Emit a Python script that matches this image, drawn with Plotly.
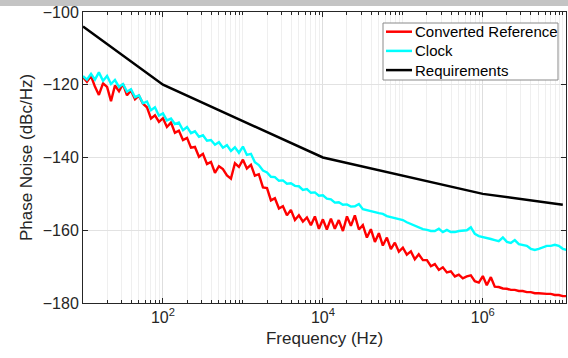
import plotly.graph_objects as go

freq_hz = [10, 11.2, 12.6, 14.1, 15.8, 17.8, 20.0, 22.4, 25.1, 28.2,
           31.6, 35.5, 39.8, 44.7, 50.1, 56.2, 63.1, 70.8, 79.4, 89.1,
           100, 112, 126, 141, 158, 178, 200, 224, 251, 282,
           316, 355, 398, 447, 501, 562, 631, 708, 794, 891,
           1000, 1120, 1260, 1410, 1580, 1780, 2000, 2240, 2510, 2820,
           3160, 3550, 3980, 4470, 5010, 5620, 6310, 7080, 7940, 8910,
           1.0e4, 1.12e4, 1.26e4, 1.41e4, 1.58e4, 1.78e4, 2.0e4, 2.24e4, 2.51e4, 2.82e4,
           3.16e4, 3.55e4, 3.98e4, 4.47e4, 5.01e4, 5.62e4, 6.31e4, 7.08e4, 7.94e4, 8.91e4,
           1.0e5, 1.12e5, 1.26e5, 1.41e5, 1.58e5, 1.78e5, 2.0e5, 2.24e5, 2.51e5, 2.82e5,
           3.16e5, 3.55e5, 3.98e5, 4.47e5, 5.01e5, 5.62e5, 6.31e5, 7.08e5, 7.94e5, 8.91e5,
           1.0e6, 1.12e6, 1.26e6, 1.41e6, 1.58e6, 1.78e6, 2.0e6, 2.24e6, 2.51e6, 2.82e6,
           3.16e6, 3.55e6, 3.98e6, 4.47e6, 5.01e6, 5.62e6, 6.31e6, 7.08e6, 7.94e6, 8.91e6,
           1.0e7, 1.12e7]

converted_reference = [
    -117.9, -119.2, -117.6, -120.5, -122.8, -119.6, -120.6, -124.5, -120.2, -121.8,
    -119.8, -122.9, -121.6, -124.0, -123.0, -125.2, -126.2, -129.3, -128.4, -130.2,
    -129.2, -131.6, -130.4, -133.2, -132.6, -135.2, -134.6, -137.3, -137.1, -139.8,
    -139.0, -141.8, -141.2, -144.2, -142.4, -143.2, -144.9, -145.8, -141.6, -142.6,
    -140.6, -143.0, -142.0, -145.0, -144.6, -148.2, -148.4, -151.8, -151.2, -154.0,
    -153.4, -155.9, -154.4, -157.2, -155.9, -157.6, -156.5, -158.6, -156.2, -159.6,
    -157.0, -159.8, -156.8, -159.6, -157.2, -160.2, -156.2, -158.8, -155.9, -159.8,
    -158.6, -162.0, -159.7, -163.2, -160.8, -164.2, -162.0, -165.2, -163.4, -165.9,
    -164.8, -166.7, -165.8, -168.0, -166.6, -168.2, -168.2, -169.9, -169.3, -170.9,
    -170.2, -171.6, -171.3, -172.7, -172.2, -173.2, -172.7, -172.4, -174.0, -174.4,
    -172.6, -175.1, -172.9, -175.5, -175.6, -176.0, -176.1, -176.4, -176.4, -176.7,
    -176.7, -177.0, -177.0, -177.3, -177.3, -177.5, -177.5, -177.5, -177.8, -177.8,
    -178.1, -178.1]

clock = [
    -117.6, -118.6, -117.0, -118.6, -116.6, -118.9, -117.6, -119.8, -118.7, -120.6,
    -119.8, -121.9, -121.2, -123.4, -122.9, -125.1, -124.6, -127.0, -126.2, -128.5,
    -127.9, -129.8, -129.3, -130.8, -130.4, -132.5, -131.6, -133.3, -132.8, -134.3,
    -133.9, -135.4, -135.2, -136.5, -135.8, -137.3, -136.6, -138.2, -137.2, -138.7,
    -137.0, -139.3, -139.0, -141.3, -142.1, -143.6, -144.1, -145.3, -145.4, -146.4,
    -146.3, -147.2, -147.1, -147.8, -147.9, -148.9, -148.7, -149.7, -149.6, -150.5,
    -150.4, -151.3, -151.5, -152.4, -152.3, -153.0, -152.9, -153.5, -153.4, -152.8,
    -154.2, -154.4, -154.7, -155.0, -155.3, -155.5, -156.1, -156.4, -156.6, -156.9,
    -157.2, -157.8, -158.3, -158.6, -159.1, -159.7, -159.9, -160.2, -160.2, -159.6,
    -160.5, -159.9, -160.5, -160.5, -160.2, -160.2, -160.0, -159.2, -161.0, -161.6,
    -161.8, -162.1, -162.4, -162.7, -163.0, -162.0, -163.2, -163.5, -162.7, -163.8,
    -164.0, -164.3, -165.1, -165.4, -165.1, -164.6, -164.3, -164.3, -164.0, -164.3,
    -165.1, -165.4]

req_freq_hz = [10, 100, 1e4, 1e6, 1e7]
requirements = [-104, -120, -140, -150, -153]

series_names = ["Converted Reference", "Clock", "Requirements"]
series_colors = ["#ff0000", "#00ffff", "#000000"]

x_tick_vals = [1e2, 1e4, 1e6]
x_tick_text = ["10<sup>2</sup>", "10<sup>4</sup>", "10<sup>6</sup>"]
y_tick_vals = [-180, -160, -140, -120, -100]

minor_vals = [m * 10 ** d for d in range(1, 8) for m in range(1, 10)]

FONT = "Liberation Sans, Arial, sans-serif"
TXT = "#262626"

W, H = 568, 358
ML, MR, MT, MB = 83, 2, 12, 55
PW, PH = W - ML - MR, H - MT - MB


def px(xp):
    return (xp - ML) / PW


def py(yp):
    return (H - MB - yp) / PH


fig = go.Figure()
fig.add_trace(go.Scatter(x=freq_hz, y=converted_reference, mode="lines",
                         name=series_names[0],
                         line=dict(color=series_colors[0], width=2.4)))
fig.add_trace(go.Scatter(x=freq_hz, y=clock, mode="lines", name=series_names[1],
                         line=dict(color=series_colors[1], width=2.4)))
fig.add_trace(go.Scatter(x=req_freq_hz, y=requirements, mode="lines",
                         name=series_names[2],
                         line=dict(color=series_colors[2], width=2.5)))

shapes = [
    # grey strip along the top of the picture
    dict(type="rect", xref="paper", yref="paper",
         x0=px(0), x1=px(W), y0=py(6), y1=py(0),
         fillcolor="#c4c4c4", line=dict(width=0), layer="above"),
    # legend box
    dict(type="rect", xref="paper", yref="paper",
         x0=px(383), x1=px(558), y0=py(80), y1=py(23),
         fillcolor="white", line=dict(color="#8a8a8a", width=1), layer="above"),
]
annotations = []
for i, (nm, col) in enumerate(zip(series_names, series_colors)):
    yc = 31.7 + 19.2 * i
    shapes.append(dict(type="line", xref="paper", yref="paper",
                       x0=px(386), x1=px(412), y0=py(yc), y1=py(yc),
                       line=dict(color=col, width=2.5), layer="above"))
    annotations.append(dict(xref="paper", yref="paper", x=px(413), y=py(yc),
                            xanchor="left", yanchor="middle", text=nm,
                            showarrow=False,
                            font=dict(family=FONT, size=15, color="#000000")))

fig.update_layout(
    width=W, height=H,
    margin=dict(l=ML, r=MR, t=MT, b=MB),
    paper_bgcolor="white", plot_bgcolor="white",
    font=dict(family=FONT, color=TXT, size=16),
    showlegend=False,
    xaxis=dict(type="log", range=[1, 7.04], automargin=False,
               tickvals=x_tick_vals, ticktext=x_tick_text,
               ticks="inside", ticklen=5, tickcolor="#262626",
               showline=True, linecolor="#262626", linewidth=1, mirror="ticks",
               showgrid=True, gridcolor="#dedede", gridwidth=1,
               minor=dict(tickvals=minor_vals, ticks="inside", ticklen=3,
                          tickcolor="#262626", showgrid=True,
                          gridcolor="#efefef", gridwidth=1),
               tickfont=dict(size=16, color=TXT),
               title=dict(text="Frequency (Hz)", font=dict(size=17, color=TXT),
                          standoff=6),
               zeroline=False),
    yaxis=dict(range=[-180, -100], tickvals=y_tick_vals, automargin=False,
               ticks="inside", ticklen=5, tickcolor="#262626",
               showline=True, linecolor="#262626", linewidth=1, mirror="ticks",
               showgrid=True, gridcolor="#e2e2e2", gridwidth=1,
               tickfont=dict(size=16, color=TXT),
               title=dict(text="Phase Noise (dBc/Hz)", font=dict(size=17, color=TXT),
                          standoff=5),
               zeroline=False),
    shapes=shapes,
    annotations=annotations,
)

fig.write_html("out.html",
               config={"displayModeBar": False},
               post_script="document.body.style.margin='0';"
                           "document.body.style.padding='0';"
                           "document.body.style.overflow='hidden';")
